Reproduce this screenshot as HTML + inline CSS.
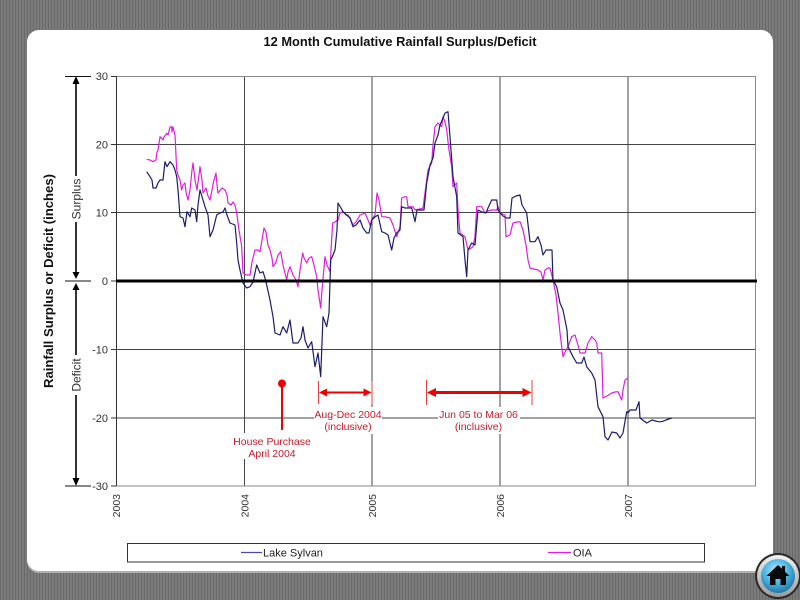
<!DOCTYPE html>
<html><head><meta charset="utf-8"><style>
html,body{margin:0;padding:0;width:800px;height:600px;overflow:hidden;background:#767676;}
svg{display:block;}
</style></head><body>
<svg width="800" height="600" viewBox="0 0 800 600" xmlns="http://www.w3.org/2000/svg" font-family="'Liberation Sans', Arial, sans-serif">
<defs>
<pattern id="st" width="3" height="6" patternUnits="userSpaceOnUse">
<rect width="3" height="6" fill="#7b7b7b"/>
<rect x="0" width="1" height="6" fill="#6a6a6a"/>
</pattern>
<radialGradient id="blu" cx="0.45" cy="0.35" r="0.7">
<stop offset="0" stop-color="#bfeaff"/>
<stop offset="0.5" stop-color="#4fb6e2"/>
<stop offset="1" stop-color="#1a6f9e"/>
</radialGradient>
<linearGradient id="ring" x1="0" y1="0" x2="0" y2="1">
<stop offset="0" stop-color="#f2f2f2"/>
<stop offset="1" stop-color="#9a9a9a"/>
</linearGradient>
</defs>
<rect width="800" height="600" fill="url(#st)"/>
<!-- panel -->
<rect x="27" y="32" width="746" height="541" rx="12" fill="#d8d8d8" opacity="0.6"/>
<rect x="27" y="30" width="746" height="541" rx="12" fill="#ffffff"/>

<!-- title -->
<text x="400" y="46" text-anchor="middle" font-size="13" font-weight="bold" fill="#111" textLength="273" lengthAdjust="spacingAndGlyphs">12 Month Cumulative Rainfall Surplus/Deficit</text>

<!-- grid -->
<g stroke="#444" stroke-width="1" fill="none">
<line x1="116" y1="144.5" x2="756" y2="144.5"/>
<line x1="116" y1="212.5" x2="756" y2="212.5"/>
<line x1="116" y1="349.5" x2="756" y2="349.5"/>
<line x1="116" y1="418" x2="756" y2="418"/>
<line x1="244.5" y1="76" x2="244.5" y2="486"/>
<line x1="372" y1="76" x2="372" y2="486"/>
<line x1="500" y1="76" x2="500" y2="486"/>
<line x1="628" y1="76" x2="628" y2="486"/>
</g>
<g stroke="#8a8a8a" stroke-width="1" fill="none">
<line x1="116" y1="76.5" x2="755.5" y2="76.5"/>
<line x1="755.5" y1="76" x2="755.5" y2="486"/>
<line x1="116" y1="486" x2="756" y2="486"/>
</g>
<line x1="116.5" y1="76" x2="116.5" y2="486" stroke="#333" stroke-width="1"/>
<g stroke="#333" stroke-width="1">
<line x1="111" y1="76.5" x2="116" y2="76.5"/>
<line x1="111" y1="144.5" x2="116" y2="144.5"/>
<line x1="111" y1="212.5" x2="116" y2="212.5"/>
<line x1="111" y1="281" x2="116" y2="281"/>
<line x1="111" y1="349.5" x2="116" y2="349.5"/>
<line x1="111" y1="418" x2="116" y2="418"/>
<line x1="111" y1="486" x2="116" y2="486"/>
</g>

<!-- y labels -->
<g font-size="11" fill="#333" text-anchor="end">
<text x="108" y="80">30</text>
<text x="108" y="148.5">20</text>
<text x="108" y="216.5">10</text>
<text x="108" y="285">0</text>
<text x="108" y="353.5">-10</text>
<text x="108" y="422">-20</text>
<text x="108" y="490">-30</text>
</g>

<!-- x labels -->
<g font-size="10.5" fill="#333" text-anchor="end">
<text transform="translate(120,494) rotate(-90)">2003</text>
<text transform="translate(248.5,494) rotate(-90)">2004</text>
<text transform="translate(376,494) rotate(-90)">2005</text>
<text transform="translate(504,494) rotate(-90)">2006</text>
<text transform="translate(632,494) rotate(-90)">2007</text>
</g>

<!-- y axis title -->
<text transform="translate(53,281) rotate(-90)" text-anchor="middle" font-size="13" font-weight="bold" fill="#111" textLength="214" lengthAdjust="spacingAndGlyphs">Rainfall Surplus or Deficit (inches)</text>

<!-- left surplus/deficit arrow -->
<g stroke="#111" stroke-width="1">
<line x1="65" y1="76.5" x2="91" y2="76.5"/>
<line x1="65" y1="281" x2="91" y2="281"/>
<line x1="65" y1="486" x2="91" y2="486"/>
</g>
<line x1="76" y1="82" x2="76" y2="276" stroke="#000" stroke-width="1.6"/>
<line x1="76" y1="286" x2="76" y2="480" stroke="#000" stroke-width="1.6"/>
<g fill="#000">
<polygon points="76,76 72.5,84 79.5,84"/>
<polygon points="76,279 72.5,272 79.5,272"/>
<polygon points="76,283 72.5,290 79.5,290"/>
<polygon points="76,486 72.5,478 79.5,478"/>
</g>
<rect x="70" y="176" width="13" height="46" fill="#fff"/>
<rect x="70" y="355" width="13" height="40" fill="#fff"/>
<text transform="translate(80.5,199) rotate(-90)" text-anchor="middle" font-size="12" fill="#333">Surplus</text>
<text transform="translate(80.5,375) rotate(-90)" text-anchor="middle" font-size="12" fill="#333">Deficit</text>

<!-- series: OIA -->
<polyline fill="none" stroke="#e01ee0" stroke-width="1.2" stroke-linejoin="round" points="146.7,159.3 150,160 153,161.7 156,160 156.7,153 158,150 160,136.7 163,140 164,137 166.7,133.3 168,135 170,127 171.7,126.7 172,132 173,127 175,135 176.7,170 178,175 180,180 181.7,190 183,185 185,183 186,192 188,200 190,190 192,170 193,163 195,180 197,190 199,175 200,166.7 202,180 203,193 206,188 208,196 210,200 212,190 214,180 216,173 217,185 218,193 222,188 225,190 227,195 228,203 231,205 233,202 235,205 236.7,213 239,230 241.7,246.7 243,273 246,275 250,275 252,262 255,250 258,250 260,251.7 262,240 264,228 266,232 266.7,236.7 268,245 270,250 272,258 273,266.7 276,262 278,255 280.7,251.7 283,265 286.7,280 288,272 290,266.7 293,275 296,280 298,286.7 300,270 302.7,253 304,258 306.7,263 309,258 311.7,256.7 314,265 316.7,276.7 318,290 320.7,308 322,290 325,256.7 327,265 330,271.7 331,250 332.7,223 335,222 338,220 340,213 343,211.7 346,215 348,215 350,218 353,225 356,222 360,215 365,213 368,220 370,225 373,218 375,215 377,193 379,200 381.7,216.7 386,217 390,218 393,225 396.7,236.7 400,226.7 401.7,198 404,197 406.7,196.7 408,206.7 413,206.7 415,210 420,209 423,208 426.7,180 428,170 431.7,163 433,145 435,126.7 438,123 441.7,126.7 443,116.7 445,122 446.7,130 449,150 451.7,166.7 453,186.7 456.7,183 458,210 460,233 465,236.7 468,250 473,246.7 475,236.7 476.7,206.7 481.7,206.7 485,213 488,211 491.7,210 496.7,210 498,206.7 500,213 505,215 506,236.7 510,235 512,226.7 513,223 517,222 520,221.7 523,230 526,245 528,260 530,268 534,269 538,270 541,272 543,280 545,270 548,268 550,268 553,280 556,295 558,313 560,333 563,356.7 566,350 568,346.7 571.7,336.7 575,335 578,345 580,353 585,353 588,343 591.7,336.7 595,340 596.7,343 598,353 601.7,353 603,398 607,396 611.7,393 615,392 618,391.7 621.7,400 623,390 625,380 628,378"/>

<!-- series: Lake Sylvan -->
<polyline fill="none" stroke="#1c1c6e" stroke-width="1.2" stroke-linejoin="round" points="146.7,171.7 150,176.7 152,180 153,188 156,188 158,183 160,180 163,180 165,161.7 167,166.7 170,161.7 173,165 175,170 176.7,176.7 178,190 180,216.7 183,218 185,226.7 187,211.7 190,216.7 191.7,208 195,210 196.7,221.7 198,205 200,190 203,200 205,206.7 208,215 210,236.7 213,230 216.7,215 220,213 223,212 225,208 227,215 230,223 235,225 236.7,243 238,260 240,270 243,283 246.7,288 250,286.7 253,282 256.7,265 260,273 263,271.7 265,278 266.7,285 270,300 273,316.7 275,333 280,335 283,326.7 286.7,333 290,320 293,343 298,343 301,338 303,326.7 305,340 308,348 311.7,341.7 315,366.7 318,353 320.7,376.7 323,316.7 326.7,326.7 329,313 330.7,260 333,255 335,250 337,230 338,203 341,208 343,211.7 346.7,215 350,218 353,226.7 356,225 360,220 363,228 366.7,233 369,233 371.7,220 375,217 378,215 381.7,231.7 385,233 388,235 391.7,250 394,238 396.7,233 400,230 401.7,206.7 405,208 411.7,208 415,221.7 417,210 424,210 426.7,183 430,165 433,158 435,143 438,135 440,125 443,118 445,113 448,111.7 450,136.7 453,176.7 456.7,196.7 458,233 463,236.7 465,260 466.7,276.7 468,250 471.7,243 475,245 478,210 482,212 486,213 488,208 491.7,200 496.7,200 498,210 500,213 503,216 506.7,218 510,218 512,198 516,196 520,195 522,205 526.7,213 530,241.7 535,241.7 538,236.7 541,245 543,255 546,250 550,250 552,250 553,280 556.7,286.7 560,303 563,310 565,320 567,330 568,346.7 573,356.7 576.7,363 581.7,363 584,357 586.7,366.7 591.7,373 595,380 598,406.7 603,416.7 605,436.7 608,440 612,432 616.7,433 620,438 623,433 626.7,411.7 628,413 630,410 636,410 639,401.7 640,418 646.7,423 652,420 658,421.7 661.7,421.7 666,420 671.7,418"/>

<!-- zero line -->
<line x1="116" y1="281" x2="757" y2="281" stroke="#000" stroke-width="3"/>

<!-- annotations -->
<rect x="233" y="433" width="78" height="26" fill="#fff"/>
<rect x="314" y="407" width="68" height="27" fill="#fff"/>
<rect x="438" y="407" width="82" height="27" fill="#fff"/>
<circle cx="282" cy="383.5" r="4" fill="#ee0000"/>
<line x1="282" y1="384" x2="282" y2="430" stroke="#ee0000" stroke-width="2"/>
<g fill="#cc1a2a" font-size="10.5" text-anchor="middle">
<text x="272" y="445">House Purchase</text>
<text x="272" y="457">April 2004</text>
<text x="348" y="418">Aug-Dec 2004</text>
<text x="348" y="430">(inclusive)</text>
<text x="478.5" y="418">Jun 05 to Mar 06</text>
<text x="478.5" y="430">(inclusive)</text>
</g>
<g stroke="#e84040" stroke-width="1">
<line x1="318.5" y1="381" x2="318.5" y2="404"/>
<line x1="372" y1="381" x2="372" y2="404"/>
<line x1="426.5" y1="380" x2="426.5" y2="405"/>
<line x1="532" y1="380" x2="532" y2="405"/>
</g>
<line x1="324" y1="392.5" x2="366" y2="392.5" stroke="#ee0000" stroke-width="2"/>
<polygon points="319,392.5 327,388.5 327,396.5" fill="#ee0000"/>
<polygon points="371.5,392.5 363.5,388.5 363.5,396.5" fill="#ee0000"/>
<line x1="433" y1="392.5" x2="525" y2="392.5" stroke="#ee0000" stroke-width="3"/>
<polygon points="427,392.5 436,388 436,397" fill="#ee0000"/>
<polygon points="531.5,392.5 522.5,388 522.5,397" fill="#ee0000"/>

<!-- legend -->
<rect x="127.5" y="543.5" width="577" height="18.5" fill="#fff" stroke="#333" stroke-width="1"/>
<line x1="241" y1="552.5" x2="262" y2="552.5" stroke="#4a4aa8" stroke-width="1.2"/>
<text x="263" y="556.5" font-size="11" fill="#222">Lake Sylvan</text>
<line x1="548" y1="552.5" x2="571" y2="552.5" stroke="#e01ee0" stroke-width="1.2"/>
<text x="573" y="556.5" font-size="11" fill="#222">OIA</text>

<!-- home button -->
<circle cx="778" cy="576" r="23" fill="#2a2a2a"/>
<circle cx="778" cy="576" r="21" fill="url(#ring)"/>
<circle cx="778" cy="576" r="17" fill="url(#blu)"/>
<polygon points="778,565 766.5,576 770,576 770,585 775.5,585 775.5,579 780.5,579 780.5,585 786,585 786,576 789.5,576" fill="#0a0a0a"/>
<rect x="782" y="566" width="3" height="6" fill="#0a0a0a"/>
</svg>
</body></html>
